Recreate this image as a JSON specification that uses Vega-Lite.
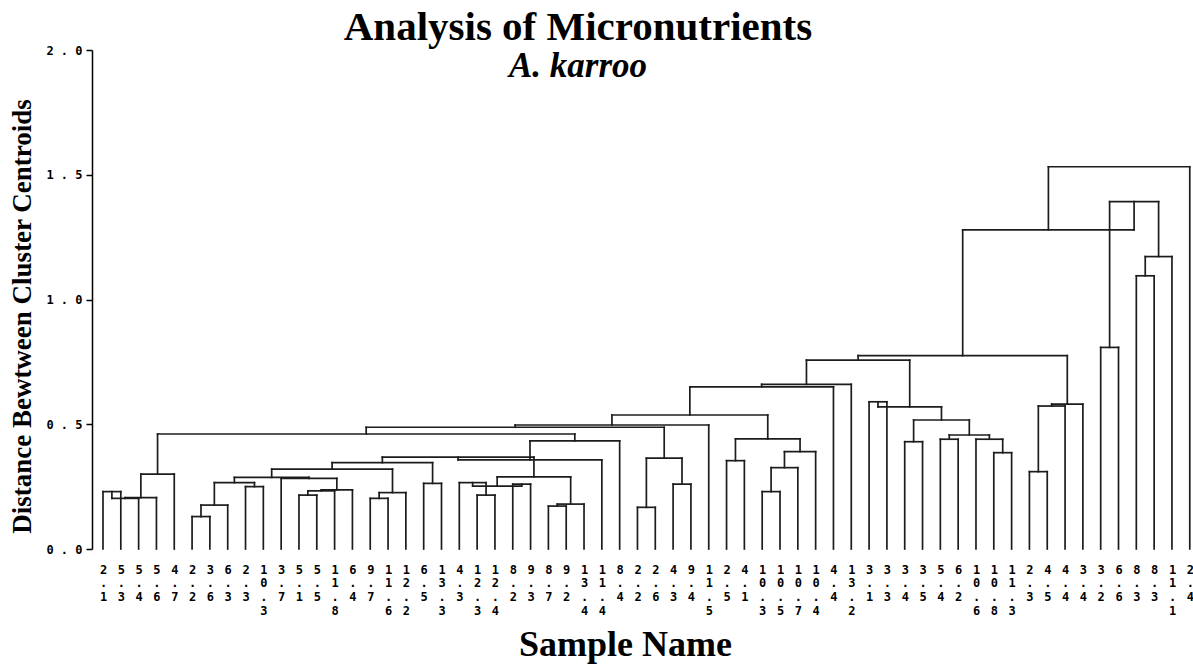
{
  "$schema": "https://vega.github.io/schema/vega-lite/v6.json",
  "width": 1100,
  "height": 499,
  "autosize": {"type": "none"},
  "padding": {"left": 92, "top": 50, "right": 1, "bottom": 121},
  "background": "white",
  "title": {
    "text": "Analysis of Micronutrients",
    "subtitle": "A. karroo",
    "anchor": "middle",
    "frame": "group",
    "dx": -64,
    "offset": -41,
    "font": "Liberation Serif",
    "fontSize": 41,
    "fontWeight": "bold",
    "color": "black",
    "subtitleFont": "Liberation Serif",
    "subtitleFontSize": 35,
    "subtitleFontWeight": "bold",
    "subtitleFontStyle": "italic",
    "subtitleColor": "black",
    "subtitlePadding": 0
  },
  "config": {"view": {"stroke": null}},
  "datasets": {
    "merges": [
      {"lx": 1, "rx": 2, "lh": 0, "rh": 0, "h": 0.23},
      {"lx": 1.5, "rx": 3, "lh": 0.23, "rh": 0, "h": 0.203},
      {"lx": 2.25, "rx": 4, "lh": 0.203, "rh": 0, "h": 0.206},
      {"lx": 3.125, "rx": 5, "lh": 0.206, "rh": 0, "h": 0.3},
      {"lx": 6, "rx": 7, "lh": 0, "rh": 0, "h": 0.13},
      {"lx": 6.5, "rx": 8, "lh": 0.13, "rh": 0, "h": 0.176},
      {"lx": 9, "rx": 10, "lh": 0, "rh": 0, "h": 0.25},
      {"lx": 7.25, "rx": 9.5, "lh": 0.176, "rh": 0.25, "h": 0.266},
      {"lx": 12, "rx": 13, "lh": 0, "rh": 0, "h": 0.216},
      {"lx": 12.5, "rx": 14, "lh": 0.216, "rh": 0, "h": 0.233},
      {"lx": 13.25, "rx": 15, "lh": 0.233, "rh": 0, "h": 0.237},
      {"lx": 11, "rx": 14.125, "lh": 0, "rh": 0.237, "h": 0.283},
      {"lx": 8.375, "rx": 12.5625, "lh": 0.266, "rh": 0.283, "h": 0.287},
      {"lx": 16, "rx": 17, "lh": 0, "rh": 0, "h": 0.203},
      {"lx": 16.5, "rx": 18, "lh": 0.203, "rh": 0, "h": 0.226},
      {"lx": 10.469, "rx": 17.25, "lh": 0.287, "rh": 0.226, "h": 0.32},
      {"lx": 19, "rx": 20, "lh": 0, "rh": 0, "h": 0.263},
      {"lx": 13.859, "rx": 19.5, "lh": 0.32, "rh": 0.263, "h": 0.346},
      {"lx": 22, "rx": 23, "lh": 0, "rh": 0, "h": 0.216},
      {"lx": 21, "rx": 22.5, "lh": 0, "rh": 0.216, "h": 0.266},
      {"lx": 24, "rx": 25, "lh": 0, "rh": 0, "h": 0.26},
      {"lx": 21.75, "rx": 24.5, "lh": 0.266, "rh": 0.26, "h": 0.252},
      {"lx": 26, "rx": 27, "lh": 0, "rh": 0, "h": 0.172},
      {"lx": 26.5, "rx": 28, "lh": 0.172, "rh": 0, "h": 0.18},
      {"lx": 23.125, "rx": 27.25, "lh": 0.252, "rh": 0.18, "h": 0.289},
      {"lx": 16.68, "rx": 25.188, "lh": 0.346, "rh": 0.289, "h": 0.368},
      {"lx": 20.934, "rx": 29, "lh": 0.368, "rh": 0, "h": 0.357},
      {"lx": 24.967, "rx": 30, "lh": 0.357, "rh": 0, "h": 0.433},
      {"lx": 4.063, "rx": 27.483, "lh": 0.3, "rh": 0.433, "h": 0.461},
      {"lx": 31, "rx": 32, "lh": 0, "rh": 0, "h": 0.167},
      {"lx": 33, "rx": 34, "lh": 0, "rh": 0, "h": 0.26},
      {"lx": 31.5, "rx": 33.5, "lh": 0.167, "rh": 0.26, "h": 0.364},
      {"lx": 15.773, "rx": 32.5, "lh": 0.461, "rh": 0.364, "h": 0.488},
      {"lx": 24.136, "rx": 35, "lh": 0.488, "rh": 0, "h": 0.497},
      {"lx": 36, "rx": 37, "lh": 0, "rh": 0, "h": 0.354},
      {"lx": 38, "rx": 39, "lh": 0, "rh": 0, "h": 0.23},
      {"lx": 38.5, "rx": 40, "lh": 0.23, "rh": 0, "h": 0.326},
      {"lx": 39.25, "rx": 41, "lh": 0.326, "rh": 0, "h": 0.39},
      {"lx": 36.5, "rx": 40.125, "lh": 0.354, "rh": 0.39, "h": 0.441},
      {"lx": 29.568, "rx": 38.313, "lh": 0.497, "rh": 0.441, "h": 0.537},
      {"lx": 33.94, "rx": 42, "lh": 0.537, "rh": 0, "h": 0.65},
      {"lx": 37.97, "rx": 43, "lh": 0.65, "rh": 0, "h": 0.66},
      {"lx": 44, "rx": 45, "lh": 0, "rh": 0, "h": 0.59},
      {"lx": 46, "rx": 47, "lh": 0, "rh": 0, "h": 0.43},
      {"lx": 48, "rx": 49, "lh": 0, "rh": 0, "h": 0.44},
      {"lx": 51, "rx": 52, "lh": 0, "rh": 0, "h": 0.386},
      {"lx": 50, "rx": 51.5, "lh": 0, "rh": 0.386, "h": 0.44},
      {"lx": 48.5, "rx": 50.75, "lh": 0.44, "rh": 0.44, "h": 0.457},
      {"lx": 46.5, "rx": 49.625, "lh": 0.43, "rh": 0.457, "h": 0.517},
      {"lx": 44.5, "rx": 48.063, "lh": 0.59, "rh": 0.517, "h": 0.57},
      {"lx": 40.485, "rx": 46.281, "lh": 0.66, "rh": 0.57, "h": 0.757},
      {"lx": 53, "rx": 54, "lh": 0, "rh": 0, "h": 0.31},
      {"lx": 53.5, "rx": 55, "lh": 0.31, "rh": 0, "h": 0.573},
      {"lx": 54.25, "rx": 56, "lh": 0.573, "rh": 0, "h": 0.581},
      {"lx": 43.383, "rx": 55.125, "lh": 0.757, "rh": 0.581, "h": 0.775},
      {"lx": 57, "rx": 58, "lh": 0, "rh": 0, "h": 0.808},
      {"lx": 59, "rx": 60, "lh": 0, "rh": 0, "h": 1.095},
      {"lx": 59.5, "rx": 61, "lh": 1.095, "rh": 0, "h": 1.172},
      {"lx": 57.5, "rx": 60.25, "lh": 0.808, "rh": 1.172, "h": 1.392},
      {"lx": 49.254, "rx": 58.875, "lh": 0.775, "rh": 1.392, "h": 1.279},
      {"lx": 54.065, "rx": 62, "lh": 1.279, "rh": 0, "h": 1.532}
    ],
    "leaves": [
      {"key": "c01|2.1"}, {"key": "c02|5.3"}, {"key": "c03|5.4"}, {"key": "c04|5.6"},
      {"key": "c05|4.7"}, {"key": "c06|2.2"}, {"key": "c07|3.6"}, {"key": "c08|6.3"},
      {"key": "c09|2.3"}, {"key": "c10|10.3"}, {"key": "c11|3.7"}, {"key": "c12|5.1"},
      {"key": "c13|5.5"}, {"key": "c14|11.8"}, {"key": "c15|6.4"}, {"key": "c16|9.7"},
      {"key": "c17|11.6"}, {"key": "c18|12.2"}, {"key": "c19|6.5"}, {"key": "c20|13.3"},
      {"key": "c21|4.3"}, {"key": "c22|12.3"}, {"key": "c23|12.4"}, {"key": "c24|8.2"},
      {"key": "c25|9.3"}, {"key": "c26|8.7"}, {"key": "c27|9.2"}, {"key": "c28|13.4"},
      {"key": "c29|11.4"}, {"key": "c30|8.4"}, {"key": "c31|2.2"}, {"key": "c32|2.6"},
      {"key": "c33|4.3"}, {"key": "c34|9.4"}, {"key": "c35|11.5"}, {"key": "c36|2.5"},
      {"key": "c37|4.1"}, {"key": "c38|10.3"}, {"key": "c39|10.5"}, {"key": "c40|10.7"},
      {"key": "c41|10.4"}, {"key": "c42|4.4"}, {"key": "c43|13.2"}, {"key": "c44|3.1"},
      {"key": "c45|3.3"}, {"key": "c46|3.4"}, {"key": "c47|3.5"}, {"key": "c48|5.4"},
      {"key": "c49|6.2"}, {"key": "c50|10.6"}, {"key": "c51|10.8"}, {"key": "c52|11.3"},
      {"key": "c53|2.3"}, {"key": "c54|4.5"}, {"key": "c55|4.4"}, {"key": "c56|3.4"},
      {"key": "c57|3.2"}, {"key": "c58|6.6"}, {"key": "c59|8.3"}, {"key": "c60|8.3"},
      {"key": "c61|11.1"}, {"key": "c62|2.4"}
    ]
  },
  "layer": [
    {
      "data": {"name": "merges"},
      "layer": [
        {
          "mark": {"type": "rule", "stroke": "#1c1c1c", "strokeWidth": 1.7, "strokeCap": "square"},
          "encoding": {
            "x": {"field": "lx", "type": "quantitative", "scale": {"domain": [0.383, 62.125], "nice": false, "zero": false}, "axis": null},
            "x2": {"field": "rx"},
            "y": {"field": "h", "type": "quantitative", "scale": {"domain": [0, 2], "nice": false},
              "axis": {"values": [0, 0.5, 1, 1.5, 2], "labelExpr": "replace(format(datum.value, '.1f'), '.', ' . ')", "labelFont": "DejaVu Sans Mono", "labelFontWeight": "bold", "labelFontSize": 12, "labelColor": "black", "labelPadding": 4, "tickColor": "black", "tickSize": 6, "tickWidth": 1.5, "domainColor": "black", "domainWidth": 1.5, "grid": false, "title": "Distance Bewtween Cluster Centroids", "titleFont": "Liberation Serif", "titleFontSize": 27, "titleFontWeight": "bold", "titleColor": "black", "titleAngle": -90, "titleX": -70, "titleY": 266, "titleAlign": "center", "titleBaseline": "middle"}}
          }
        },
        {
          "mark": {"type": "rule", "stroke": "#1c1c1c", "strokeWidth": 1.7, "strokeCap": "square"},
          "encoding": {
            "x": {"field": "lx", "type": "quantitative", "scale": {"domain": [0.383, 62.125], "nice": false, "zero": false}, "axis": null},
            "y": {"field": "lh", "type": "quantitative", "scale": {"domain": [0, 2], "nice": false},
              "axis": {"values": [0, 0.5, 1, 1.5, 2], "labelExpr": "replace(format(datum.value, '.1f'), '.', ' . ')", "labelFont": "DejaVu Sans Mono", "labelFontWeight": "bold", "labelFontSize": 12, "labelColor": "black", "labelPadding": 4, "tickColor": "black", "tickSize": 6, "tickWidth": 1.5, "domainColor": "black", "domainWidth": 1.5, "grid": false, "title": "Distance Bewtween Cluster Centroids", "titleFont": "Liberation Serif", "titleFontSize": 27, "titleFontWeight": "bold", "titleColor": "black", "titleAngle": -90, "titleX": -70, "titleY": 266, "titleAlign": "center", "titleBaseline": "middle"}},
            "y2": {"field": "h"}
          }
        },
        {
          "mark": {"type": "rule", "stroke": "#1c1c1c", "strokeWidth": 1.7, "strokeCap": "square"},
          "encoding": {
            "x": {"field": "rx", "type": "quantitative", "scale": {"domain": [0.383, 62.125], "nice": false, "zero": false}, "axis": null},
            "y": {"field": "rh", "type": "quantitative", "scale": {"domain": [0, 2], "nice": false},
              "axis": {"values": [0, 0.5, 1, 1.5, 2], "labelExpr": "replace(format(datum.value, '.1f'), '.', ' . ')", "labelFont": "DejaVu Sans Mono", "labelFontWeight": "bold", "labelFontSize": 12, "labelColor": "black", "labelPadding": 4, "tickColor": "black", "tickSize": 6, "tickWidth": 1.5, "domainColor": "black", "domainWidth": 1.5, "grid": false, "title": "Distance Bewtween Cluster Centroids", "titleFont": "Liberation Serif", "titleFontSize": 27, "titleFontWeight": "bold", "titleColor": "black", "titleAngle": -90, "titleX": -70, "titleY": 266, "titleAlign": "center", "titleBaseline": "middle"}},
            "y2": {"field": "h"}
          }
        }
      ]
    },
    {
      "data": {"name": "leaves"},
      "mark": {"type": "point", "opacity": 0},
      "encoding": {
        "x": {
          "field": "key",
          "type": "ordinal",
          "scale": {"type": "point", "padding": 0.37, "align": 0.834},
          "axis": {"orient": "bottom", "labelExpr": "split(split(datum.value, '|')[1], '')", "labelAngle": 0, "labelFont": "DejaVu Sans Mono", "labelFontWeight": "bold", "labelFontSize": 12, "labelLineHeight": 13.7, "labelBaseline": "top", "labelAlign": "center", "labelPadding": 15, "labelColor": "black", "labelOverlap": false, "labelBound": false, "ticks": false, "tickSize": 0, "domain": false, "grid": false,
            "title": "Sample Name", "titleFont": "Liberation Serif", "titleFontSize": 36, "titleFontWeight": "bold", "titleColor": "black", "titleX": 533, "titleY": 106, "titleAlign": "center", "titleBaseline": "alphabetic"}
        }
      }
    }
  ],
  "resolve": {"scale": {"x": "independent"}, "axis": {"x": "independent"}}
}
